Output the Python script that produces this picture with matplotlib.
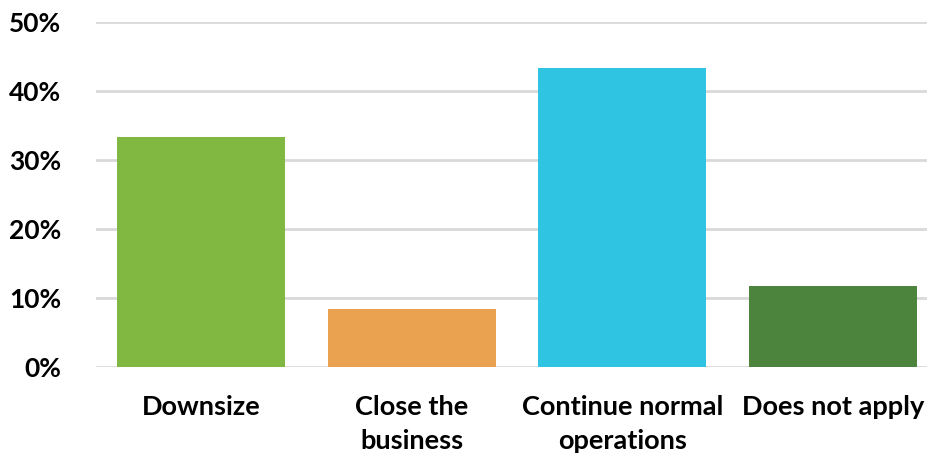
import matplotlib
matplotlib.use("Agg")
import matplotlib.pyplot as plt
from matplotlib.ticker import MultipleLocator, PercentFormatter

categories = ["Downsize", "Close the\nbusiness", "Continue normal\noperations", "Does not apply"]
shares = [33.3, 8.4, 43.3, 11.7]
colors = ["#80b842", "#eba250", "#2ec4e2", "#4d843d"]

plt.rcParams["font.family"] = ["Lato", "DejaVu Sans"]
plt.rcParams["font.weight"] = "bold"

fig = plt.figure(figsize=(9.27, 4.54), dpi=100)
ax = fig.add_axes([96 / 927, 87 / 454, 842 / 927, 345 / 454])

x = range(len(categories))
ax.bar(x, shares, width=0.8, color=colors, zorder=3)

ax.set_xlim(-0.5, len(categories) - 0.5)
ax.set_ylim(0, 50)
ax.yaxis.set_major_locator(MultipleLocator(10))
ax.yaxis.set_major_formatter(PercentFormatter(decimals=0))
ax.grid(axis="y", color="#d9d9d9", linewidth=2, zorder=0)
ax.set_axisbelow(True)

for s in ax.spines.values():
    s.set_visible(False)
ax.tick_params(length=0)
ax.tick_params(axis="y", pad=25, labelsize=19)
ax.tick_params(axis="x", pad=20, labelsize=19.5)
ax.set_xticks(list(x))
ax.set_xticklabels(categories, fontweight="bold", linespacing=1.5)
for lbl in ax.get_yticklabels():
    lbl.set_fontweight("bold")

fig.savefig("out.png", dpi=100)
